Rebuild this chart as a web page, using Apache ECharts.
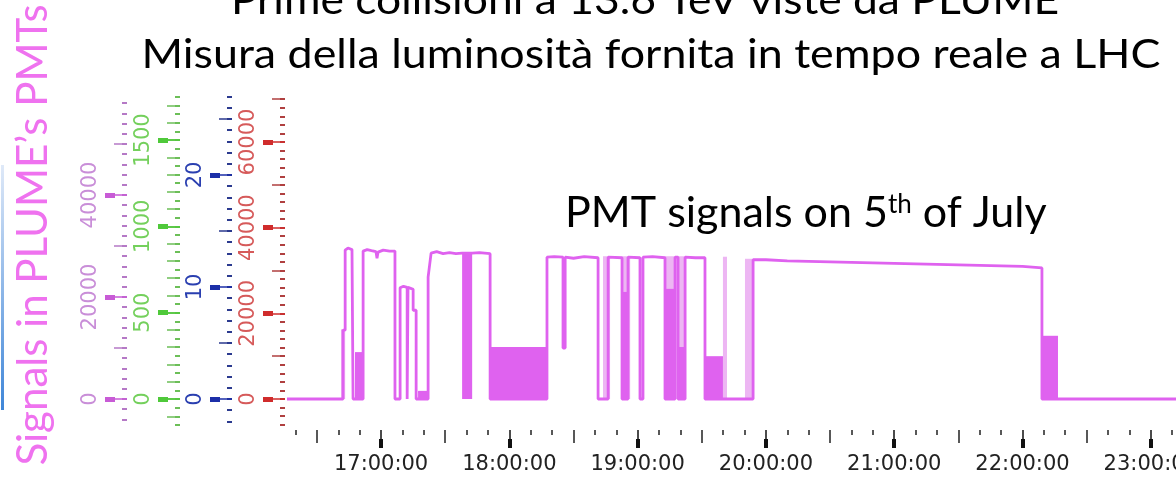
<!DOCTYPE html>
<html><head><meta charset="utf-8">
<script src="https://cdn.jsdelivr.net/npm/echarts@6/dist/echarts.min.js"></script>
<style>html,body{margin:0;padding:0;background:#fff;}#c{width:1176px;height:481px;}</style>
</head><body><div id="c"></div>
<script>
// x values: minutes after 16:00 on 5 July
const xMin = 16.0, xMax = 431.8;
const hourTicks = [60, 120, 180, 240, 300, 360, 420];
const hourLabels = ['17:00:00', '18:00:00', '19:00:00', '20:00:00', '21:00:00', '22:00:00', '23:00:00'];
const halfHourTicks = [30, 90, 150, 210, 270, 330, 390];

// y axis tick labels (four scales)
const pinkTicks = [0, 20000, 40000];
const greenTicks = [0, 500, 1000, 1500];
const blueTicks = [0, 10, 20];
const redTicks = [0, 20000, 40000, 60000];

// main PMT signal trace [minutes, signal]
const mainSignal = [
  [16.0,0],[42.2,0],[42.2,13500],[43.2,13500],[43.2,29200],[44.5,29600],[46.4,29300],[46.9,29000],[46.9,0],
  [51.6,0],[51.6,29000],[53.5,29300],[55.5,29100],[57.6,28900],[58.1,27600],[58.6,28800],[61,29200],[64,29000],[66.5,29000],[66.5,0],
  [68.9,0],[68.9,21800],[70.5,22100],[72.2,21900],[72.2,0],[72.6,0],[72.6,21900],[75.0,21500],[75.0,17400],[76.4,17400],[76.4,0],
  [82.0,0],[82.0,23900],[83.4,28600],[86,28900],[89,28500],[92,28700],[95,28500],[97.9,28600],[102.6,28600],[106,28700],[111.0,28500],[111.0,0],
  [137.6,0],[137.6,27800],[141,27900],[145.1,27800],[145.1,10000],[146.1,10000],[146.1,27800],[150,27600],[155,27900],[161.5,27700],[161.5,0],
  [166.2,0],[166.2,27800],[172.7,27700],[172.7,0],[175.5,0],[175.5,27800],[181.1,27700],[181.1,0],[182.5,0],[182.5,27800],[187,27900],[192.8,27700],[192.8,0],
  [197.5,0],[197.5,27800],[198.9,27800],[198.9,0],[202.2,0],[202.2,27800],[207,27700],[211.5,27700],[211.5,0],
  [234.0,0],[234.0,27300],[240,27300],[250,27100],[260,27000],[270,26900],[280,26800],[290,26700],[300,26600],[310,26500],
  [320,26400],[330,26300],[340,26200],[350,26100],[360,26000],[369.1,25700],[369.1,0],[431.8,0]
];
// dense (rapidly toggling) intervals [start, end, top]
const denseBlocks = [
  [47.8,51.6,9000],[77.3,82.0,1400],[97.9,102.6,28600],[111.0,137.6,10000],[172.7,175.5,20800],
  [192.8,197.5,21400],[198.9,202.2,10000],[211.5,219.9,8200],[369.1,376.6,12200]
];
// fainter channels [start, end, top]
const lightBlocks = [
  [41.3,43.2,13500],[163.8,167.1,27800],[172.7,176.5,27800],[192.8,197.5,27800],
  [198.9,202.2,27800],[219.9,221.8,27700],[230.2,234.0,27300]
];

const chart = echarts.init(document.getElementById('c'), null, {renderer:'canvas'});

function range(from, to, step) { const a = []; for (let v = from; v <= to + 1e-9; v += step) a.push(+v.toFixed(6)); return a; }

function axisSet(c) {
  const base = {type:'value', position:'left', min:c.min, max:c.max, axisLine:{show:false, onZero:false}, splitLine:{show:false},
    axisLabel:{show:false}, axisTick:{show:false}};
  return [
    Object.assign({}, base, {offset:c.offset, axisTick:{show:true, inside:false, customValues:c.minor, length:5, lineStyle:{color:c.tick, width:2}}}),
    Object.assign({}, base, {offset:c.offset, axisTick:{show:true, inside:false, customValues:c.mid, length:13, lineStyle:{color:c.tick, width:1.5}}}),
    Object.assign({}, base, {offset:c.offset, axisTick:{show:true, inside:false, customValues:c.major, length:12, lineStyle:{color:c.mark, width:1.5}},
      axisLabel:{show:true, customValues:c.major, rotate:90, margin:26, color:c.label, fontSize:21, fontFamily:'DejaVu Sans', formatter: v => String(v)}}),
    Object.assign({}, base, {offset:c.offset+12, axisTick:{show:true, inside:false, customValues:c.major, length:10, lineStyle:{color:c.mark, width:5}}})
  ];
}

const yAxes = [].concat(
  axisSet({min:-5098, max:59608, offset:160, major:pinkTicks, mid:[10000,30000,50000], minor:range(-4000,58000,2000), label:'#c98ed8', mark:'#c85bd6', tick:'#b579c6'}),
  axisSet({min:-150.6, max:1760.6, offset:107, major:greenTicks, mid:range(-100,1700,100), minor:range(-150,1750,50), label:'#74d05c', mark:'#4fc93a', tick:'#6cbf58'}),
  axisSet({min:-2.321, max:27.143, offset:55, major:blueTicks, mid:[5,15,25], minor:range(-2,27,1), label:'#2a3fb0', mark:'#1c2fa8', tick:'#2b3a8f'}),
  axisSet({min:-6070, max:70973, offset:2, major:redTicks, mid:[10000,30000,50000,70000], minor:range(-6000,70000,2000), label:'#d65a5a', mark:'#d02c2c', tick:'#b04040'})
);

const xBase = {type:'value', min:xMin, max:xMax, position:'bottom', offset:5, axisLine:{show:false, onZero:false}, splitLine:{show:false}, axisLabel:{show:false}, axisTick:{show:false}};
const tenMin = range(20, 430, 10).filter(v => v % 30 !== 0);
const xAxes = [
  Object.assign({}, xBase, {axisTick:{show:true, customValues:hourTicks, length:10, lineStyle:{color:'#111', width:1.5}},
    axisLabel:{show:true, customValues:hourTicks, margin:24, fontSize:21, color:'#222', fontFamily:'DejaVu Sans', hideOverlap:false,
      formatter: v => hourLabels[hourTicks.indexOf(v)] || ''}}),
  Object.assign({}, xBase, {offset:14, axisTick:{show:true, customValues:hourTicks, length:9, lineStyle:{color:'#111', width:4}}}),
  Object.assign({}, xBase, {axisTick:{show:true, customValues:halfHourTicks, length:13, lineStyle:{color:'#222', width:1.5}}}),
  Object.assign({}, xBase, {axisTick:{show:true, customValues:tenMin, length:5, lineStyle:{color:'#222', width:1.5}}})
];

const MAIN = '#df62ef', LIGHT = '#edb6f3';
const series = [];
lightBlocks.forEach(b => series.push({type:'line', xAxisIndex:0, yAxisIndex:0, data:[[b[0],b[2]],[b[1],b[2]]], showSymbol:false,
  lineStyle:{width:2, color:LIGHT}, areaStyle:{color:LIGHT, opacity:1}, z:1, silent:true}));
denseBlocks.forEach(b => series.push({type:'line', xAxisIndex:0, yAxisIndex:0, data:[[b[0],b[2]],[b[1],b[2]]], showSymbol:false,
  lineStyle:{width:2, color:MAIN}, areaStyle:{color:MAIN, opacity:1}, z:2, silent:true}));
series.push({type:'line', xAxisIndex:0, yAxisIndex:0, data:mainSignal, showSymbol:false, lineStyle:{width:2.8, color:MAIN}, z:3});

chart.setOption({
  animation:false,
  grid:{left:287, right:0, top:95, bottom:56, containLabel:false, outerBoundsMode:'none'},
  xAxis:xAxes,
  yAxis:yAxes,
  series:series,
  graphic:[
    {type:'rect', shape:{x:1, y:165, width:3, height:245}, style:{fill:new echarts.graphic.LinearGradient(0,0,0,1,[{offset:0,color:'#dfe9f8'},{offset:1,color:'#3f86d8'}])}},
    {type:'text', x:645, y:1, scaleX:1.11, style:{text:'Prime collisioni a 13.6 TeV viste da PLUME', font:'40px Lato', fill:'#000', textAlign:'center', textVerticalAlign:'middle'}},
    {type:'text', x:651, y:55, scaleX:1.12, style:{text:'Misura della luminosità fornita in tempo reale a LHC', font:'40px Lato', fill:'#000', textAlign:'center', textVerticalAlign:'middle'}},
    {type:'text', x:33, y:235, rotation:Math.PI/2, style:{text:'Signals in PLUME’s PMTs', font:'42px Lato', fill:'#ef72ef', textAlign:'center', textVerticalAlign:'middle'}},
    {type:'text', x:565, y:213, style:{text:'{a|PMT signals on 5}{s|th}{a| of July}', textVerticalAlign:'middle',
      rich:{a:{fontSize:43, fontFamily:'Lato', color:'#e040e3'}, s:{fontSize:26, fontFamily:'Lato', color:'#e040e3', verticalAlign:'top'}}}}
  ]
});
</script></body></html>
